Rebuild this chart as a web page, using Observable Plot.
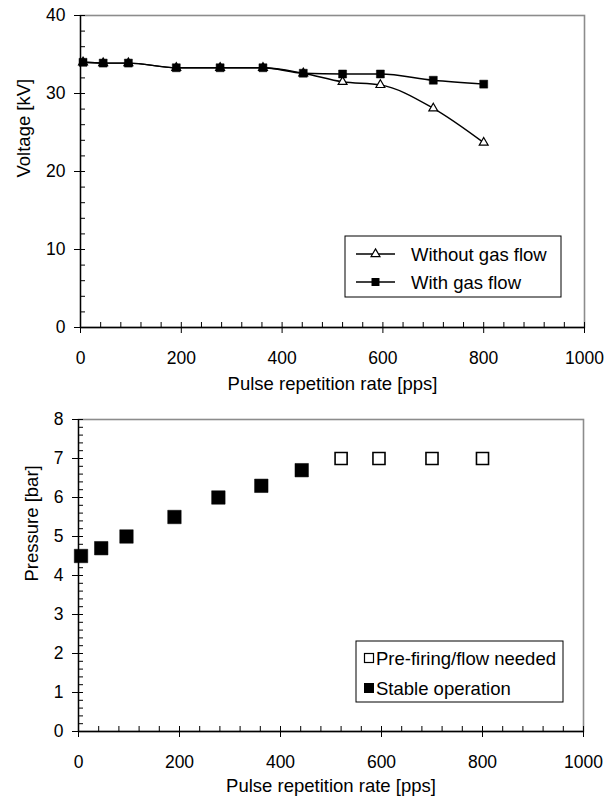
<!DOCTYPE html>
<html><head><meta charset="utf-8">
<script src="https://cdn.jsdelivr.net/npm/d3@7"></script>
<script src="https://cdn.jsdelivr.net/npm/@observablehq/plot@0.6"></script>
<style>
body{margin:0;background:#fff;font-family:"Liberation Sans",Arial,sans-serif;}
#wrap{position:relative;width:615px;height:804px;overflow:hidden;}
#wrap > svg{position:absolute;left:0;}
</style></head><body><div id="wrap"></div>
<script>
// ---- data ----
const rate = [5, 45, 95, 190, 277, 362, 442, 520, 595, 700, 800];
const voltageWithoutFlow = [34.0, 33.9, 33.9, 33.3, 33.3, 33.3, 32.6, 31.5, 31.1, 28.1, 23.7];
const voltageWithFlow    = [34.0, 33.9, 33.9, 33.3, 33.3, 33.3, 32.6, 32.5, 32.5, 31.7, 31.2];
const stableRate = [5, 45, 95, 190, 277, 362, 442];
const stablePressure = [4.5, 4.7, 5.0, 5.5, 6.0, 6.3, 6.7];
const prefireRate = [520, 595, 700, 800];
const prefirePressure = [7, 7, 7, 7];
const xTicks = [0, 200, 400, 600, 800, 1000];
const voltageTicks = [0, 10, 20, 30, 40];
const pressureTicks = [0, 1, 2, 3, 4, 5, 6, 7, 8];
const voltageLegend = ["Without gas flow", "With gas flow"];
const pressureLegend = ["Pre-firing/flow needed", "Stable operation"];
const xTitle = "Pulse repetition rate [pps]";
const voltageTitle = "Voltage [kV]";
const pressureTitle = "Pressure [bar]";

const FONT = '"Liberation Sans", Arial, sans-serif';
const W = 615;
const TITLE_SIZE = 18.5;

function chart(o) {
  const plotH = o.height - o.marginTop - o.marginBottom;
  const plotW = W - o.marginLeft - o.marginRight;
  const xMinor = d3.range(0, 1001, 40);
  const yMinor = d3.range(0, o.yDomain[1] + 1e-9, o.yMinorStep);
  return Plot.plot({
    width: W, height: o.height,
    marginTop: o.marginTop, marginBottom: o.marginBottom,
    marginLeft: o.marginLeft, marginRight: o.marginRight,
    style: {fontFamily: FONT, fontSize: "17px", color: "#000", background: "transparent", overflow: "visible"},
    x: {domain: [0, 1000]},
    y: {domain: o.yDomain},
    marks: [
      Plot.frame({stroke: "#8c8c8c", strokeWidth: 1.6}),
      Plot.tickX(xMinor, {x: d => d, insetTop: plotH - 5, stroke: "#000", strokeWidth: 1}),
      Plot.tickY(yMinor, {y: d => d, insetRight: plotW - 5, stroke: "#000", strokeWidth: 1}),
      Plot.axisX({ticks: xTicks, tickSize: 6, tickPadding: 18, tickFormat: d => String(d), label: null, fontSize: 17.5}),
      Plot.axisY({ticks: o.yTicks, tickSize: 6, tickPadding: 9, tickFormat: d => String(d), label: null, fontSize: 17.5}),
      Plot.ruleX([0], {stroke: "#000", strokeWidth: 1.3}),
      Plot.ruleY([0], {stroke: "#000", strokeWidth: 1.3}),
      ...o.marks,
      Plot.text([o.yTitle], {frameAnchor: "left", rotate: -90, dx: o.yTitleDx, dy: 6, text: d => d, fontSize: TITLE_SIZE}),
      Plot.text([xTitle], {frameAnchor: "bottom", dy: o.xTitleDy, text: d => d, fontSize: TITLE_SIZE})
    ]
  });
}

const topChart = chart({
  height: 405, marginTop: 15, marginBottom: 78, marginLeft: 80, marginRight: 31,
  yDomain: [0, 40], yTicks: voltageTicks, yMinorStep: 2,
  yTitle: voltageTitle, yTitleDx: -56, xTitleDy: 62,
  marks: [
    Plot.line(voltageWithoutFlow, {x: rate, y: voltageWithoutFlow, curve: "monotone-x", stroke: "#000", strokeWidth: 1.4}),
    Plot.line(voltageWithFlow, {x: rate, y: voltageWithFlow, curve: "monotone-x", stroke: "#000", strokeWidth: 1.4}),
    Plot.dot(voltageWithoutFlow, {x: rate, y: voltageWithoutFlow, symbol: "triangle", r: 3.3, fill: "#fff", stroke: "#000", strokeWidth: 1.2}),
    Plot.dot(voltageWithFlow, {x: rate, y: voltageWithFlow, symbol: "square", r: 4.5, fill: "#000", stroke: "#000", strokeWidth: 0.5})
  ]
});
topChart.style.top = "0px";

const bottomChart = chart({
  height: 399, marginTop: 14, marginBottom: 73, marginLeft: 78, marginRight: 32,
  yDomain: [0, 8], yTicks: pressureTicks, yMinorStep: 0.2,
  yTitle: pressureTitle, yTitleDx: -46, xTitleDy: 60,
  marks: [
    Plot.dot(prefirePressure, {x: prefireRate, y: prefirePressure, symbol: "square", r: 6.8, fill: "#fff", stroke: "#000", strokeWidth: 1.6}),
    Plot.dot(stablePressure, {x: stableRate, y: stablePressure, symbol: "square", r: 7.6, fill: "#000", stroke: "#000", strokeWidth: 0.5})
  ]
});
bottomChart.style.top = "405px";

const wrap = document.getElementById("wrap");
wrap.appendChild(topChart);
wrap.appendChild(bottomChart);

// ---- legends (overlay) ----
const ov = d3.select(wrap).append("svg")
  .attr("width", W).attr("height", 804)
  .style("top", "0px").style("pointer-events", "none")
  .style("font-family", FONT).style("font-size", TITLE_SIZE + "px");

// top legend
const lg1 = ov.append("g").attr("transform", "translate(345,236)");
lg1.append("rect").attr("width", 216).attr("height", 61).attr("fill", "#fff").attr("stroke", "#000").attr("stroke-width", 1);
const rowsY1 = [18, 46];
voltageLegend.forEach((name, i) => {
  const y = rowsY1[i];
  lg1.append("line").attr("x1", 11).attr("x2", 50).attr("y1", y).attr("y2", y).attr("stroke", "#000").attr("stroke-width", 1.4);
  if (i === 0) {
    lg1.append("path").attr("transform", `translate(30.5,${y})`)
      .attr("d", d3.symbol(d3.symbolTriangle, Math.PI * 3.3 * 3.3)())
      .attr("fill", "#fff").attr("stroke", "#000").attr("stroke-width", 1.2);
  } else {
    lg1.append("path").attr("transform", `translate(30.5,${y})`)
      .attr("d", d3.symbol(d3.symbolSquare, Math.PI * 4.5 * 4.5)())
      .attr("fill", "#000");
  }
  lg1.append("text").attr("x", 66).attr("y", y + 6.5).text(name);
});

// bottom legend
const lg2 = ov.append("g").attr("transform", "translate(356,641)");
lg2.append("rect").attr("width", 207).attr("height", 61).attr("fill", "#fff").attr("stroke", "#000").attr("stroke-width", 1);
const rowsY2 = [17, 47];
pressureLegend.forEach((name, i) => {
  const y = rowsY2[i];
  if (i === 0) {
    lg2.append("rect").attr("x", 8.5).attr("y", y - 4.5).attr("width", 9).attr("height", 9)
      .attr("fill", "#fff").attr("stroke", "#000").attr("stroke-width", 1.2);
  } else {
    lg2.append("rect").attr("x", 8).attr("y", y - 5).attr("width", 10).attr("height", 10).attr("fill", "#000");
  }
  lg2.append("text").attr("x", 20).attr("y", y + 6.5).text(name);
});
</script>
</body></html>
